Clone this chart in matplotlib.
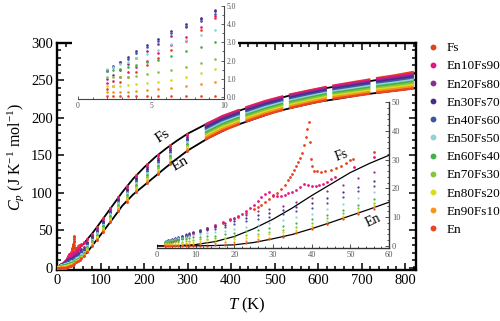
import numpy as np
import matplotlib.pyplot as plt
from matplotlib.lines import Line2D
from matplotlib.ticker import MultipleLocator, FormatStrFormatter

plt.rcParams['font.family'] = ['Liberation Serif', 'DejaVu Serif']
plt.rcParams['mathtext.fontset'] = 'custom'
plt.rcParams['mathtext.rm'] = 'Liberation Serif'
plt.rcParams['mathtext.it'] = 'Liberation Serif:italic'

names = ["Fs", "En10Fs90", "En20Fs80", "En30Fs70", "En40Fs60", "En50Fs50",
         "En60Fs40", "En70Fs30", "En80Fs20", "En90Fs10", "En"]
colors = ["#e8401c", "#e6157f", "#8b2d8e", "#4a2a8a", "#3c55a5", "#8fd3d6",
          "#45b048", "#86c440", "#d8dc1c", "#f7941d", "#ea4420"]

# low temperature (PPMS) data, shared grid
T_ppms = [2.0, 2.4, 2.9, 3.4, 4.0, 4.7, 5.5, 6.4, 7.4, 8.4, 9.4,
          11, 13, 15, 17.5, 20, 23, 26, 29, 32.5, 36, 40, 44, 48, 52, 56,
          62, 70, 80, 92, 106, 122, 140, 160, 182, 206, 232, 260, 298]
T_main = [62, 70, 80, 92, 106, 122, 140, 160, 182, 206, 232, 260, 298]
T_inset = [2.0, 2.4, 2.9, 3.4, 4.0, 4.7, 5.5, 6.4, 7.4, 8.4, 9.4]

T_fs = T_inset + [11, 13, 15, 17, 19, 21, 23, 25, 26, 27, 28, 29, 30, 31, 32, 33, 34,
                  34.5, 35, 35.5, 36, 36.5, 37, 37.5, 38, 38.5, 38.9, 39.2, 39.5, 39.8,
                  40.1, 40.6, 41.5, 42.3, 43.5, 45, 46.2, 47.5, 48.8, 50, 50.6, 56] + T_main
cp_fs = [0.45, 0.6, 0.85, 1.1, 1.4, 1.75, 2.15, 2.6, 3.1, 3.7, 4.35,
         5.2, 6.0, 6.9, 7.9, 9.0, 10.1, 11.3, 12.7, 13.5, 14.4, 15.4, 16.4, 17.4, 18.5,
         19.8, 21.2, 22.9, 23.8, 25.1, 26.5, 27.8, 29.1, 30.7, 32.4, 35.0, 38.0, 40.8,
         43.0, 36.0, 30.3, 27.9, 26.2, 25.9, 25.8, 26.0, 26.5, 27.1, 27.9, 28.9, 29.8,
         30.3, 32.6,
         34, 39, 45, 54, 66, 80, 95, 109, 124, 138, 151, 164, 178]

T_en10 = T_inset + [11, 13, 15, 17, 19, 20, 21, 22, 23, 24, 25, 26, 27, 28, 29, 30,
                    31, 32, 33, 34, 35, 36, 37, 38, 39, 40, 41, 42, 43, 44, 45, 46,
                    51, 56] + T_main
cp_en10 = [0.75, 0.9, 1.1, 1.35, 1.65, 2.0, 2.4, 2.85, 3.3, 3.85, 4.45,
           5.6, 6.4, 7.3, 8.3, 9.3, 9.8, 10.5, 11.2, 12.0, 13.2, 14.4, 15.7, 17.0,
           18.0, 18.6, 17.7, 17.2, 17.4, 17.8, 18.3, 18.9, 19.6, 20.4, 21.4, 21.1,
           20.8, 20.9, 21.1, 21.5, 22.2, 23.1, 23.9, 27.3, 30.9,
           33, 38, 44.5, 53.5, 65.5, 79.4, 94.4, 108.4, 123.3, 137.3, 150.2, 163.2, 177.3]

cp_en20 = [1.0, 1.2, 1.5, 1.8, 2.15, 2.5, 2.9, 3.35, 3.85, 4.3, 4.8,
           5.3, 6.1, 6.9, 8.0, 9.3, 10.8, 12.0, 12.9, 13.9, 15.1, 16.8, 19.0, 21.3, 23.5, 25.6,
           28, 35, 42.6, 51.5, 63.3, 77.2, 92.2, 105.9, 120.6, 134.3, 147.1, 160.1, 174.7]
cp_en30 = [1.5, 1.7, 1.95, 2.2, 2.5, 2.85, 3.2, 3.6, 4.0, 4.35, 4.7,
           5.1, 5.8, 6.5, 7.4, 8.5, 9.7, 10.7, 11.6, 12.5, 13.5, 14.8, 16.6, 18.6, 20.6, 22.6,
           25.5, 33, 41, 49.8, 61.5, 75.3, 90.3, 103.8, 118.3, 131.8, 144.5, 157.5, 172.5]
cp_en40 = [1.45, 1.65, 1.9, 2.1, 2.4, 2.75, 3.1, 3.5, 3.9, 4.2, 4.55,
           4.9, 5.5, 6.0, 6.7, 7.5, 8.5, 9.4, 10.2, 11.1, 12.1, 13.3, 15.0, 16.9, 19.0, 21.0,
           24, 31.5, 39.4, 48.1, 59.7, 73.4, 88.4, 101.7, 116, 129.3, 141.9, 154.9, 170.3]
cp_en50 = [1.55, 1.65, 1.8, 1.95, 2.15, 2.35, 2.6, 2.9, 3.15, 3.4, 3.7,
           4.0, 4.4, 4.8, 5.3, 5.9, 6.6, 7.3, 8.0, 8.9, 9.9, 11.2, 12.8, 14.6, 16.6, 18.6,
           21.5, 29.5, 37.8, 46.4, 57.9, 71.5, 86.5, 99.6, 113.7, 126.8, 139.3, 152.3, 168.1]
cp_en60 = [1.45, 1.5, 1.55, 1.65, 1.75, 1.9, 2.05, 2.25, 2.5, 2.75, 3.0,
           3.2, 3.4, 3.6, 4.0, 4.5, 5.1, 5.7, 6.3, 7.0, 8.0, 9.3, 10.8, 12.5, 14.3, 16.2,
           19.5, 27.5, 35.9, 44.3, 55.7, 69.2, 84.2, 97, 110.9, 123.8, 136.2, 149.2, 165.5]
cp_en70 = [1.1, 1.1, 1.1, 1.1, 1.15, 1.25, 1.35, 1.5, 1.65, 1.85, 2.1,
           2.3, 2.5, 2.7, 2.9, 3.2, 3.7, 4.2, 4.8, 5.6, 6.6, 8.0, 9.6, 11.3, 13.1, 15.0,
           18.5, 26, 34.1, 42.4, 53.8, 67.1, 82.1, 94.7, 108.4, 121, 133.3, 146.3, 163]
cp_en80 = [0.6, 0.6, 0.62, 0.65, 0.7, 0.75, 0.85, 0.95, 1.1, 1.3, 1.55,
           1.75, 1.95, 2.1, 2.3, 2.5, 2.9, 3.4, 4.0, 4.7, 5.7, 7.1, 8.7, 10.4, 12.2, 14.1,
           17.5, 24.5, 32.5, 40.7, 52, 65.2, 80.2, 92.6, 106, 118.5, 130.7, 143.7, 160.8]
cp_en90 = [0.28, 0.26, 0.27, 0.3, 0.33, 0.38, 0.43, 0.5, 0.6, 0.7, 0.85,
           1.0, 1.1, 1.2, 1.3, 1.5, 1.8, 2.3, 2.9, 3.7, 4.7, 6.2, 7.8, 9.6, 11.5, 13.4,
           16.8, 23, 30.8, 38.9, 50, 63.1, 78.1, 90.3, 103.5, 115.8, 127.9, 140.9, 158.4]
cp_en = [0.04, 0.04, 0.04, 0.05, 0.05, 0.05, 0.05, 0.05, 0.06, 0.06, 0.07,
         0.1, 0.15, 0.25, 0.4, 0.6, 1.0, 1.6, 2.3, 3.2, 4.4, 5.9, 7.5, 9.2, 11.0, 12.9,
         16, 21.5, 29, 37, 48, 61, 76, 88, 101, 113, 125, 138, 156]

# high temperature (DSC) data, 5 runs of 3 points each
T_dsc = [340, 380, 420, 433, 478, 520, 533, 578, 620, 633, 678, 720, 733, 778, 820]
dsc_fs = [191, 202.5, 211, 214, 222.5, 229, 231, 236.5, 241.5, 243, 247.5, 251.5, 253, 257, 261.5]
dsc_en10 = [190.4, 201.9, 210.4, 213.4, 221.9, 228.5, 230.5, 236, 241, 242.5, 246.5, 250.4, 251.9, 255.4, 259.4]
dsc_en20 = [188.4, 200, 208.5, 211.5, 220.1, 226.7, 228.7, 234.2, 239.2, 240.7, 244.7, 248.6, 250, 253.5, 257.3]
dsc_en30 = [186.4, 198, 206.6, 209.6, 218.2, 224.9, 226.9, 232.5, 237.5, 239, 242.9, 246.7, 248.1, 251.5, 255.3]
dsc_en40 = [184.4, 196.1, 204.7, 207.7, 216.4, 223.1, 225.1, 230.7, 235.7, 237.2, 241.1, 244.9, 246.2, 249.6, 253.2]
dsc_en50 = [182.2, 193.9, 202.6, 205.6, 214.4, 221.1, 223.1, 228.8, 233.8, 235.3, 239.1, 242.9, 244.1, 247.4, 251]
dsc_en60 = [180, 191.8, 200.6, 203.6, 212.3, 219.1, 221.1, 226.9, 231.9, 233.4, 237.1, 240.8, 242, 245.3, 248.7]
dsc_en70 = [177.8, 189.6, 198.5, 201.5, 210.3, 217.1, 219.1, 225, 230, 231.5, 235.1, 238.8, 240, 243.1, 246.5]
dsc_en80 = [175.6, 187.5, 196.4, 199.4, 208.3, 215.1, 217.1, 223, 228, 229.5, 233.1, 236.8, 237.9, 241, 244.2]
dsc_en90 = [173.4, 185.3, 194.3, 197.3, 206.2, 213.2, 215.2, 221.1, 226.1, 227.6, 231.2, 234.7, 235.8, 238.8, 242]
dsc_en = [171, 183, 192, 195, 204, 211, 213, 219, 224, 225.5, 229, 232.5, 233.5, 236.5, 239.5]

# lattice fits for the end members
T_fit_fs = [0, 5, 10, 15, 20, 25, 30, 35, 40, 45, 50, 55, 60, 70, 80, 90, 100, 115, 130,
            150, 175, 200, 225, 250, 275, 300, 350, 400, 450, 500, 550, 600, 650, 700, 750, 820]
fit_fs = [0, 0.1, 0.5, 1.5, 3.3, 6.0, 9.3, 13.2, 17.5, 21.5, 25.5, 28.7, 31.5, 38.5, 45.5,
          53, 61, 73, 85, 101, 119, 134, 147.5, 159, 169.5, 179, 194, 206, 216, 225, 232,
          238, 243, 247.5, 252, 259]
T_fit_en = [0, 10, 15, 20, 25, 30, 35, 40, 45, 50, 55, 60, 70, 80, 90, 100, 115, 130, 150,
            175, 200, 225, 250, 275, 300, 350, 400, 450, 500, 550, 600, 650, 700, 750, 820]
fit_en = [0, 0.05, 0.15, 0.4, 1.2, 2.5, 4.0, 6.0, 8.2, 10.5, 12.8, 15.2, 21.5, 29, 36.5,
          44, 55.5, 67, 83, 98, 110, 122, 134, 145.5, 156.5, 174, 188, 198, 208, 215,
          221.5, 226, 231, 234.5, 239.5]

T_list = [T_fs, T_en10] + [T_ppms] * 9
cp_list = [cp_fs, cp_en10, cp_en20, cp_en30, cp_en40, cp_en50, cp_en60,
           cp_en70, cp_en80, cp_en90, cp_en]
dsc_list = [dsc_fs, dsc_en10, dsc_en20, dsc_en30, dsc_en40, dsc_en50, dsc_en60,
            dsc_en70, dsc_en80, dsc_en90, dsc_en]

W, H = 500, 321
fig = plt.figure(figsize=(W / 100, H / 100), dpi=100)

def px(x0, y0, x1, y1):
    return [x0 / W, 1 - y1 / H, (x1 - x0) / W, (y1 - y0) / H]

# ---- main axes
ax = fig.add_axes(px(57, 43, 416, 270))
ax.plot(T_fit_fs, fit_fs, 'k-', lw=1.3, zorder=2)
ax.plot(T_fit_en, fit_en, 'k-', lw=1.3, zorder=2)
for T, cp, dsc, c in zip(T_list, cp_list, dsc_list, colors):
    ax.plot(T, cp, 'o', ms=2.1, color=c, mec='none', zorder=3)
    for k in range(0, len(T_dsc), 3):
        ax.plot(T_dsc[k:k + 3], dsc[k:k + 3], '-', lw=1.7, color=c,
                solid_capstyle='butt', zorder=3)
ax.set_xlim(0, 825)
ax.set_ylim(-2.7, 300)
ax.xaxis.set_major_locator(MultipleLocator(100))
ax.xaxis.set_minor_locator(MultipleLocator(20))
ax.yaxis.set_major_locator(MultipleLocator(50))
ax.yaxis.set_minor_locator(MultipleLocator(10))
ax.tick_params(which='both', direction='in', top=True, right=True, width=1.1,
               labelsize=10.5, pad=3)
ax.tick_params(which='major', length=5)
ax.tick_params(which='minor', length=2.8)
for s in ax.spines.values():
    s.set_linewidth(1.7)
ax.set_xlabel(r'$T$ (K)', fontsize=12)
ax.xaxis.set_label_coords(0.53, -0.115)
ax.set_ylabel(r'$C_p$ (J K$^{-1}$ mol$^{-1}$)', fontsize=11.5)
ax.yaxis.set_label_coords(-0.085, 0.5)
ax.text(243, 176, "Fs", fontsize=11, rotation=33, ha='center', va='center')
ax.text(284, 139, "En", fontsize=11, rotation=30, ha='center', va='center')

# ---- inset 1 (0-10 K)
ax1 = fig.add_axes(px(72, 0, 238, 105))
ax1.set_facecolor('white')
for T, cp, c in zip(T_list, cp_list, colors):
    Tl = [t for t in T if t <= 10]
    ax1.plot(Tl, cp[:len(Tl)], 'o', ms=1.9, color=c, mec='none')
ax1.set_xlim(-0.41, 10.96)
ax1.set_ylim(-0.44, 5.33)
ax1.spines['top'].set_visible(False)
ax1.spines['left'].set_visible(False)
ax1.spines['bottom'].set_position(('data', -0.1))
ax1.spines['bottom'].set_bounds(0, 10)
ax1.spines['right'].set_position(('data', 10))
ax1.spines['right'].set_bounds(-0.1, 5)
for s in ('bottom', 'right'):
    ax1.spines[s].set_linewidth(0.8)
    ax1.spines[s].set_color('#444444')
ax1.xaxis.set_major_locator(MultipleLocator(5))
ax1.xaxis.set_minor_locator(MultipleLocator(1))
ax1.yaxis.set_major_locator(MultipleLocator(1))
ax1.yaxis.set_minor_locator(MultipleLocator(0.5))
ax1.yaxis.set_major_formatter(FormatStrFormatter('%.1f'))
ax1.yaxis.tick_right()
ax1.tick_params(which='both', direction='in', labelsize=5.5, labelcolor='#555555',
                color='#444444', width=0.6, pad=2)
ax1.tick_params(which='major', length=2.5)
ax1.tick_params(which='minor', length=1.3)
ax1.set_yticks([0, 1, 2, 3, 4, 5])
ax1.set_xticks([0, 5, 10])

# ---- inset 2 (0-60 K)
ax2 = fig.add_axes(px(157, 100, 389, 250))
ax2.set_facecolor('none')
ax2.plot(T_fit_fs, fit_fs, 'k-', lw=0.9)
ax2.plot(T_fit_en, fit_en, 'k-', lw=0.9)
for i, (T, cp, c) in enumerate(zip(T_list, cp_list, colors)):
    Tl = [t for t in T if t <= 60]
    ms = 2.0 if i < 2 else 1.6
    ax2.plot(Tl, cp[:len(Tl)], 'o', ms=ms, color=c, mec='none')
ax2.set_xlim(0, 60)
ax2.set_ylim(-1.4, 50.7)
ax2.spines['top'].set_visible(False)
ax2.spines['left'].set_visible(False)
ax2.spines['bottom'].set_position(('data', -0.7))
ax2.spines['bottom'].set_bounds(0, 60)
ax2.spines['right'].set_bounds(-0.7, 50)
for s in ('bottom', 'right'):
    ax2.spines[s].set_linewidth(1.0)
    ax2.spines[s].set_color('#333333')
ax2.xaxis.set_major_locator(MultipleLocator(10))
ax2.xaxis.set_minor_locator(MultipleLocator(2))
ax2.yaxis.set_major_locator(MultipleLocator(10))
ax2.yaxis.set_minor_locator(MultipleLocator(2))
ax2.yaxis.tick_right()
ax2.tick_params(which='both', direction='in', labelsize=6, labelcolor='#555555',
                color='#333333', width=0.6, pad=2)
ax2.tick_params(which='major', length=3)
ax2.tick_params(which='minor', length=1.5)
ax2.set_yticks([0, 10, 20, 30, 40, 50])
ax2.text(47.8, 31.3, "Fs", fontsize=10, rotation=20, ha='center', va='center')
ax2.text(56, 8.7, "En", fontsize=10, rotation=25, ha='center', va='center')

# ---- legend
handles = [Line2D([], [], ls='none', marker='o', ms=4.2, color=c, mec='none')
           for c in colors]
fig.legend(handles, names, loc='upper left', bbox_to_anchor=(428 / W, 1 - 42 / H),
           frameon=False, fontsize=9.5, handlelength=0.8, handletextpad=0.6,
           labelspacing=0.45, borderpad=0, borderaxespad=0)

fig.savefig("out.png", dpi=100)
